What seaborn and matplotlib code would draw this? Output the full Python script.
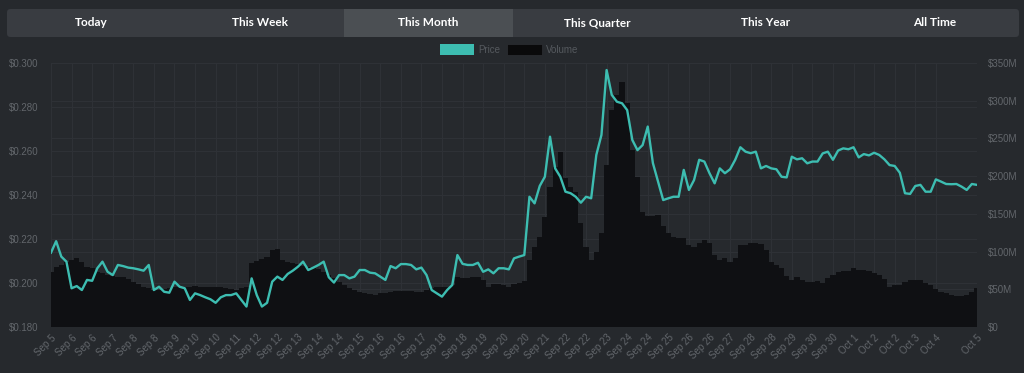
import matplotlib
matplotlib.use("Agg")
import matplotlib.pyplot as plt
import seaborn as sns
import pandas as pd
import numpy as np
from matplotlib.patches import FancyBboxPatch, Rectangle

# ---------------- data (4-hour samples, Sep 5 12:00 -> Oct 5 12:00) ----------------
price = [
    0.2138, 0.2190, 0.2120, 0.2097, 0.1976, 0.1986, 0.1968, 0.2014, 0.2010, 0.2067,
    0.2097, 0.2051, 0.2036, 0.2082, 0.2077, 0.2070, 0.2067, 0.2062, 0.2056, 0.2082,
    0.1968, 0.1983, 0.1960, 0.1956, 0.2006, 0.1983, 0.1976, 0.1923, 0.1953, 0.1945,
    0.1935, 0.1926, 0.1910, 0.1935, 0.1945, 0.1945, 0.1953, 0.1923, 0.1893, 0.2021,
    0.1945, 0.1893, 0.1910, 0.2006, 0.2029, 0.2014, 0.2041, 0.2056, 0.2074, 0.2097,
    0.2059, 0.2070, 0.2082, 0.2097, 0.2026, 0.2002, 0.2036, 0.2036, 0.2021, 0.2029,
    0.2059, 0.2059, 0.2047, 0.2044, 0.2029, 0.2014, 0.2077, 0.2067, 0.2086, 0.2086,
    0.2082, 0.2062, 0.2070, 0.2036, 0.1968, 0.1953, 0.1938, 0.1968, 0.1991, 0.2127,
    0.2087, 0.2082, 0.2082, 0.2092, 0.2051, 0.2062, 0.2044, 0.2067, 0.2067, 0.2062,
    0.2112, 0.2120, 0.2127, 0.2392, 0.2362, 0.2441, 0.2483, 0.2665, 0.2521, 0.2483,
    0.2415, 0.2408, 0.2392, 0.2365, 0.2392, 0.2385, 0.2582, 0.2673, 0.2968, 0.2855,
    0.2824, 0.2817, 0.2786, 0.2650, 0.2604, 0.2627, 0.2711, 0.2545, 0.2461, 0.2377,
    0.2385, 0.2392, 0.2392, 0.2514, 0.2423, 0.2468, 0.2560, 0.2552, 0.2499, 0.2453,
    0.2521, 0.2499, 0.2517, 0.2560, 0.2617, 0.2597, 0.2590, 0.2597, 0.2521, 0.2532,
    0.2521, 0.2517, 0.2483, 0.2480, 0.2574, 0.2562, 0.2567, 0.2544, 0.2552, 0.2552,
    0.2589, 0.2597, 0.2560, 0.2602, 0.2612, 0.2608, 0.2617, 0.2571, 0.2586, 0.2580,
    0.2592, 0.2582, 0.2562, 0.2536, 0.2532, 0.2501, 0.2408, 0.2405, 0.2441, 0.2446,
    0.2415, 0.2415, 0.2471, 0.2461, 0.2450, 0.2449, 0.2450, 0.2438, 0.2423, 0.2450,
    0.2446,
]

volume_m = [
    73.3, 80.0, 82.2, 86.6, 89.0, 91.0, 86.6, 80.0, 78.0, 73.0,
    71.0, 69.0, 67.6, 66.7, 66.7, 63.0, 60.0, 57.0, 53.5, 51.3,
    49.0, 49.0, 50.0, 51.3, 52.6, 53.5, 53.5, 53.5, 54.4, 53.5,
    53.5, 53.5, 52.6, 52.6, 51.3, 50.0, 49.0, 51.3, 53.5, 84.5,
    88.0, 89.7, 93.0, 102.0, 104.0, 88.9, 86.6, 85.3, 83.6, 81.0,
    80.0, 78.7, 77.0, 73.4, 69.0, 64.6, 60.1, 55.7, 51.3, 49.1,
    46.9, 44.7, 43.3, 42.5, 44.7, 45.6, 46.9, 47.8, 48.2, 48.2,
    48.2, 46.9, 46.9, 49.1, 51.3, 52.6, 52.6, 53.0, 55.7, 66.8,
    65.4, 64.6, 65.9, 66.8, 62.3, 53.5, 57.0, 56.6, 55.7, 53.5,
    57.0, 58.8, 61.5, 88.9, 106.5, 119.8, 146.3, 186.0, 212.6, 232.5,
    197.0, 186.0, 179.5, 137.5, 106.5, 88.9, 100.0, 124.2, 215.0, 287.7,
    307.6, 325.3, 296.6, 234.7, 199.3, 153.0, 147.2, 147.2, 148.5, 134.0,
    124.2, 119.8, 117.6, 117.6, 108.7, 106.5, 111.0, 115.4, 111.8, 95.5,
    88.9, 91.0, 86.6, 91.0, 108.7, 108.7, 111.0, 111.8, 110.0, 102.1,
    86.6, 82.2, 77.8, 67.6, 62.0, 65.9, 62.3, 60.1, 60.1, 61.0,
    58.8, 64.6, 69.0, 73.0, 74.7, 74.7, 77.8, 75.6, 75.2, 73.8,
    72.1, 69.0, 63.2, 53.5, 55.7, 55.7, 60.1, 61.9, 62.3, 62.3,
    57.9, 55.7, 50.0, 46.9, 44.7, 42.0, 41.1, 41.1, 42.9, 46.9,
    51.3,
]

x_labels = [
    "Sep 5", "Sep 6", "Sep 6", "Sep 7", "Sep 8", "Sep 8", "Sep 9", "Sep 10", "Sep 10",
    "Sep 11", "Sep 12", "Sep 12", "Sep 13", "Sep 14", "Sep 14", "Sep 15", "Sep 16",
    "Sep 16", "Sep 17", "Sep 18", "Sep 18", "Sep 19", "Sep 20", "Sep 20", "Sep 21",
    "Sep 22", "Sep 22", "Sep 23", "Sep 24", "Sep 24", "Sep 25", "Sep 26", "Sep 26",
    "Sep 27", "Sep 28", "Sep 28", "Sep 29", "Sep 30", "Sep 30", "Oct 1", "Oct 2",
    "Oct 2", "Oct 3", "Oct 4", "Oct 5",
]

price_ticks = [0.18, 0.20, 0.22, 0.24, 0.26, 0.28, 0.30]
volume_ticks = [0, 50, 100, 150, 200, 250, 300, 350]
tabs = ["Today", "This Week", "This Month", "This Quarter", "This Year", "All Time"]
active_tab = "This Month"
legend_labels = ["Price", "Volume"]

# ---------------- styling ----------------
BG = "#26292d"
GRID = "#2e3136"
TEAL = "#3dbdb1"
BAR = "#0f1013"
TICK = "#62666b"
TAB_BG = "#393c41"
TAB_ACTIVE = "#4b4f53"

plt.rcParams["font.family"] = ["Liberation Sans", "DejaVu Sans"]

df = pd.DataFrame({"step": np.arange(len(price)), "price": price, "volume": volume_m})
n = len(price)

W, H = 1024, 373
fig = plt.figure(figsize=(W / 100, H / 100), dpi=100)
fig.patch.set_facecolor(BG)

rect = [51 / W, 1 - 327 / H, 926 / W, 264 / H]
ax_bg = fig.add_axes(rect)
ax_bg.set_facecolor(BG)
ax_vol = ax_bg.twinx()
ax_line = ax_bg.twinx()

# volume bars
sns.barplot(data=df, x="step", y="volume", native_scale=True, color=BAR, saturation=1,
            width=1.0, errorbar=None, linewidth=0, ax=ax_vol)
ax_vol.set_axisbelow(True)

# price line
sns.lineplot(data=df, x="step", y="price", color=TEAL, linewidth=1.7, legend=False, ax=ax_line)

for a in (ax_bg, ax_vol, ax_line):
    a.set_xlim(0, n - 1)
    for s in a.spines.values():
        s.set_visible(False)
    a.set_xlabel("")
    a.set_ylabel("")

ax_bg.set_ylim(0.18, 0.30)
ax_line.set_ylim(0.18, 0.30)
ax_vol.set_ylim(0, 350)

label_steps = list(range(0, 4 * (len(x_labels) - 1), 4)) + [n - 1]
ax_bg.set_xticks(label_steps)
ax_bg.set_xticklabels(x_labels, rotation=45, ha="right", rotation_mode="anchor")
ax_bg.set_yticks(price_ticks)
ax_bg.set_yticklabels([f"${v:.3f}" for v in price_ticks])
ax_bg.tick_params(axis="both", length=0, labelsize=7, labelcolor=TICK)
ax_bg.tick_params(axis="x", pad=4)
ax_bg.tick_params(axis="y", pad=9)
ax_bg.grid(True, color=GRID, linewidth=0.8)

ax_vol.yaxis.tick_right()
ax_vol.set_yticks(volume_ticks)
ax_vol.set_yticklabels(["$0" if v == 0 else f"${v}M" for v in volume_ticks])
ax_vol.tick_params(axis="y", length=0, labelsize=7, labelcolor=TICK, pad=8)
ax_vol.grid(True, axis="y", color=GRID, linewidth=0.8)

ax_line.set_yticks([])
ax_line.tick_params(length=0)

# ---------------- tab bar ----------------
inch = fig.dpi_scale_trans
fig.add_artist(FancyBboxPatch((7 / 100, (H - 37) / 100), 1012 / 100, 28 / 100,
                              boxstyle="round,pad=0,rounding_size=0.035",
                              transform=inch, facecolor=TAB_BG, edgecolor="none"))
tab_w = 1012 / len(tabs)
for k, t in enumerate(tabs):
    x0 = 7 + k * tab_w
    if t == active_tab:
        fig.add_artist(Rectangle((x0 / 100, (H - 37) / 100), tab_w / 100, 28 / 100,
                                 transform=inch, facecolor=TAB_ACTIVE, edgecolor="none"))
    fig.text((x0 + tab_w / 2) / W, 1 - 23 / H, t, ha="center", va="center",
             color="white", fontsize=8.5, fontweight="bold", family=["Lato", "DejaVu Sans"])

# ---------------- legend ----------------
fig.add_artist(Rectangle((440 / 100, (H - 55) / 100), 34 / 100, 11 / 100, transform=inch,
                         facecolor=TEAL, edgecolor="none"))
fig.text(478 / W, 1 - 50 / H, legend_labels[0], ha="left", va="center", color="#55595e", fontsize=7)
fig.add_artist(Rectangle((507 / 100, (H - 55) / 100), 35 / 100, 11 / 100, transform=inch,
                         facecolor="#0a0a0b", edgecolor="#2a2c30", linewidth=0.6))
fig.text(546 / W, 1 - 50 / H, legend_labels[1], ha="left", va="center", color="#55595e", fontsize=7)

fig.savefig("out.png", dpi=100, facecolor=BG)
